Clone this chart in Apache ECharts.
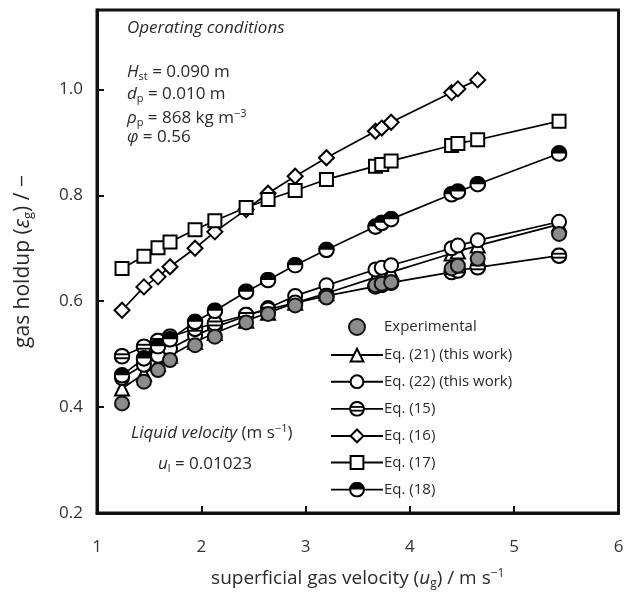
<!DOCTYPE html>
<html lang="en">
  <head>
    <meta charset="utf-8" />
    <title>gas holdup</title>
    <style>
      html,
      body,
      #container {
        margin: 0;
        height: 100%;
        width: 100%;
        background: #fff;
      }
    </style>
  </head>

  <body>
    <div id="container"></div>
    <script src="https://cdn.jsdelivr.net/npm/echarts@6/dist/echarts.min.js"></script>
    <script>
      // superficial gas velocity (m/s)
      const ug = [1.24, 1.45, 1.585, 1.7, 1.94, 2.13, 2.43, 2.64, 2.9, 3.2, 3.67, 3.73, 3.82, 4.4, 4.46, 4.65, 5.43]
      // gas holdup
      const expData = [0.407, 0.448, 0.47, 0.489, 0.517, 0.533, 0.56, 0.576, 0.592, 0.607, 0.63, 0.633, 0.636, 0.662, 0.667, 0.68, 0.727]
      const eq21 = [0.435, 0.463, 0.482, 0.497, 0.523, 0.54, 0.563, 0.578, 0.597, 0.615, 0.645, 0.649, 0.655, 0.69, 0.694, 0.705, 0.745]
      const eq22 = [0.455, 0.48, 0.497, 0.51, 0.535, 0.551, 0.572, 0.587, 0.61, 0.63, 0.66, 0.663, 0.668, 0.7, 0.705, 0.715, 0.75]
      const eq15 = [0.496, 0.514, 0.525, 0.533, 0.548, 0.558, 0.574, 0.584, 0.597, 0.61, 0.628, 0.631, 0.635, 0.655, 0.658, 0.664, 0.686]
      const eq16 = [0.583, 0.627, 0.646, 0.665, 0.7, 0.731, 0.773, 0.804, 0.836, 0.871, 0.921, 0.927, 0.938, 0.994, 1.001, 1.018]
      const eq17 = [0.662, 0.685, 0.701, 0.712, 0.735, 0.752, 0.777, 0.792, 0.809, 0.83, 0.855, 0.858, 0.865, 0.894, 0.898, 0.905, 0.94]
      const eq18 = [0.46, 0.492, 0.515, 0.528, 0.561, 0.582, 0.618, 0.64, 0.668, 0.697, 0.741, 0.748, 0.755, 0.802, 0.807, 0.821, 0.879]
      const xTicks = [1, 6, 1]
      const yTicks = [0.2, 1.15, 0.2]

      const FONT = 'Open Sans'
      const INK = '#2a2a2a'
      const pairs = (ys) => ys.map((y, i) => [ug[i], y])

      // svg markers for the striped and half filled circles
      const svg = (w, h, body) =>
        'image://data:image/svg+xml;charset=utf-8,' +
        encodeURIComponent(
          '<svg xmlns="http://www.w3.org/2000/svg" width="' + w * 2 + '" height="' + h * 2 +
            '" viewBox="0 0 ' + w + ' ' + h + '">' + body + '</svg>'
        )
      const stripes = (cx, cy, r) =>
        '<circle cx="' + cx + '" cy="' + cy + '" r="' + r + '" fill="#fff"/>' +
        '<rect x="' + (cx - r) + '" y="' + (cy - r * 0.4) + '" width="' + 2 * r + '" height="' + r * 0.26 + '" fill="#000"/>' +
        '<rect x="' + (cx - r) + '" y="' + (cy + r * 0.14) + '" width="' + 2 * r + '" height="' + r * 0.26 + '" fill="#000"/>' +
        '<circle cx="' + cx + '" cy="' + cy + '" r="' + r + '" fill="none" stroke="#000" stroke-width="' + r * 0.29 + '"/>'
      const half = (cx, cy, r) =>
        '<circle cx="' + cx + '" cy="' + cy + '" r="' + r + '" fill="#fff"/>' +
        '<path d="M' + (cx - r) + ',' + cy + ' A' + r + ',' + r + ' 0 0 1 ' + (cx + r) + ',' + cy + ' Z" fill="#000"/>' +
        '<circle cx="' + cx + '" cy="' + cy + '" r="' + r + '" fill="none" stroke="#000" stroke-width="' + r * 0.29 + '"/>'
      const legendLine = '<line x1="0" y1="8" x2="52" y2="8" stroke="#000" stroke-width="1.8"/>'

      const stripedCircle = svg(20, 20, stripes(10, 10, 8.6))
      const halfCircle = svg(20, 20, half(10, 10, 8.6))
      const stripedIcon = svg(52, 16, legendLine + stripes(26, 8, 6.9))
      const halfIcon = svg(52, 16, legendLine + half(26, 8, 6.9))

      const lineSeries = (name, ys, symbol, size) => ({
        name: name,
        type: 'line',
        data: pairs(ys),
        symbol: symbol,
        symbolSize: size,
        showAllSymbol: true,
        lineStyle: { color: '#000', width: 1.7 },
        itemStyle: { color: '#fff', borderColor: '#000', borderWidth: 2 },
        emphasis: { disabled: true },
      })

      const rich = {
        i: { fontFamily: FONT, fontSize: 17, fontStyle: 'italic', fill: INK },
        s: { fontFamily: FONT, fontSize: 11, padding: [9, 0, 0, 0] },
        u: { fontFamily: FONT, fontSize: 11, padding: [0, 0, 9, 0] },
      }
      const txt = (x, y, text, italic) => ({
        type: 'text',
        left: x,
        top: y,
        style: {
          text: text,
          rich: rich,
          fontFamily: FONT,
          fontSize: 17,
          fontStyle: italic ? 'italic' : 'normal',
          fill: INK,
        },
      })

      let chart = echarts.init(document.getElementById('container'))
      let option = {
        animation: false,
        backgroundColor: '#fff',
        grid: {
          left: 97,
          right: 17.5,
          top: 10,
          bottom: 85,
          show: true,
          borderColor: '#111',
          borderWidth: 3,
        },
        xAxis: {
          type: 'value',
          min: xTicks[0],
          max: xTicks[1],
          interval: xTicks[2],
          name: 'superficial gas velocity ({i|u}{s|g}) / m s{u|−1}',
          nameLocation: 'middle',
          nameGap: 55,
          nameTextStyle: {
            fontFamily: FONT,
            fontSize: 19,
            color: INK,
            rich: {
              i: { fontFamily: FONT, fontSize: 19, fontStyle: 'italic', color: INK },
              s: { fontFamily: FONT, fontSize: 12, color: INK, padding: [10, 0, 0, 0] },
              u: { fontFamily: FONT, fontSize: 12, color: INK, padding: [0, 0, 10, 0] },
            },
          },
          axisLine: { lineStyle: { color: '#111', width: 3 } },
          axisTick: { inside: true, length: 7, lineStyle: { color: '#111', width: 2 } },
          axisLabel: { margin: 26, fontFamily: FONT, fontSize: 17, color: '#333' },
          splitLine: { show: false },
        },
        yAxis: {
          type: 'value',
          min: yTicks[0],
          max: yTicks[1],
          interval: yTicks[2],
          name: 'gas holdup ({i|ε}{s|g}) / −',
          nameLocation: 'middle',
          nameGap: 62,
          nameTextStyle: {
            fontFamily: FONT,
            fontSize: 21,
            color: INK,
            rich: {
              i: { fontFamily: FONT, fontSize: 21, fontStyle: 'italic', color: INK },
              s: { fontFamily: FONT, fontSize: 13, color: INK, padding: [10, 0, 0, 0] },
            },
          },
          axisLine: { lineStyle: { color: '#111', width: 3 } },
          axisTick: { inside: true, length: 7, lineStyle: { color: '#111', width: 2 } },
          axisLabel: {
            margin: 14,
            fontFamily: FONT,
            fontSize: 17,
            color: '#333',
            showMaxLabel: false,
            formatter: (v) => v.toFixed(1),
          },
          splitLine: { show: false },
        },
        legend: {
          left: 325,
          top: 313,
          orient: 'vertical',
          itemWidth: 52,
          itemHeight: 16,
          itemGap: 11.6,
          textStyle: { fontFamily: FONT, fontSize: 15, color: INK, padding: [0, 0, 0, -4] },
          data: [
            'Experimental',
            'Eq. (21) (this work)',
            'Eq. (22) (this work)',
            { name: 'Eq. (15)', icon: stripedIcon },
            'Eq. (16)',
            'Eq. (17)',
            { name: 'Eq. (18)', icon: halfIcon },
          ],
        },
        graphic: [
          txt(127, 20, 'Operating conditions', true),
          txt(127, 64, '{i|H}{s|st} = 0.090 m'),
          txt(127, 86, '{i|d}{s|p} = 0.010 m'),
          txt(127, 108, '{i|ρ}{s|p} = 868 kg m{u|−3}'),
          txt(127, 129, '{i|φ} = 0.56'),
          txt(131, 423, '{i|Liquid velocity} (m s{u|−1})'),
          txt(158, 456, '{i|u}{s|l} = 0.01023'),
        ],
        series: [
          lineSeries('Eq. (21) (this work)', eq21, 'triangle', 14),
          lineSeries('Eq. (22) (this work)', eq22, 'circle', 14),
          lineSeries('Eq. (15)', eq15, stripedCircle, 17),
          lineSeries('Eq. (16)', eq16, 'diamond', 15),
          lineSeries('Eq. (17)', eq17, 'rect', 13),
          lineSeries('Eq. (18)', eq18, halfCircle, 17),
          {
            name: 'Experimental',
            type: 'scatter',
            data: pairs(expData),
            symbol: 'circle',
            symbolSize: 14,
            itemStyle: { color: '#8c8c8c', borderColor: '#111', borderWidth: 2, opacity: 1 },
            emphasis: { disabled: true },
            z: 3,
          },
        ],
      }
      chart.setOption(option)
    </script>
  </body>
</html>
